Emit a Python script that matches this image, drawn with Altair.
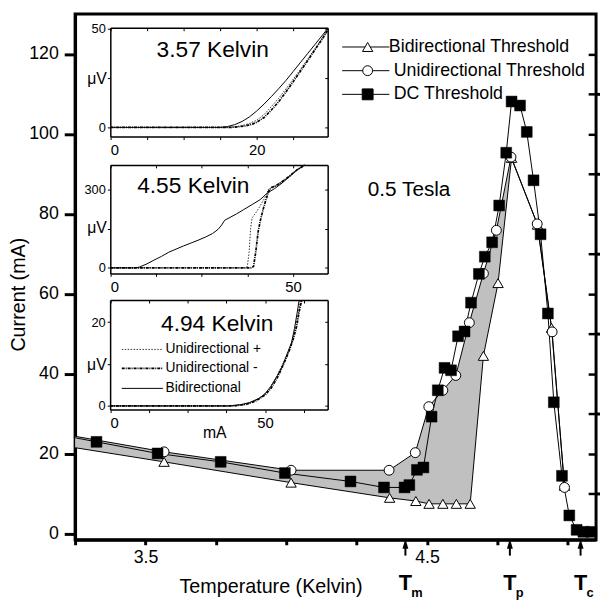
import altair as alt
import pandas as pd

# ---------------- main panel: Temperature (K) vs threshold current (mA) ----------------
bidir_T = [3.20, 3.566, 4.017, 4.367, 4.460, 4.507, 4.556, 4.604, 4.653, 4.700, 4.752, 4.800, 4.892, 4.942, 4.988]
bidir_I = [22.1, 18.0, 12.8, 9.0, 8.2, 7.5, 7.5, 7.5, 7.5, 44.5, 62.7, 94.0, 77.3, 51.5, 12.0]
unidir_T = [3.20, 3.566, 4.017, 4.365, 4.458, 4.506, 4.556, 4.602, 4.650, 4.700, 4.746, 4.798, 4.891, 4.944, 4.988]
unidir_I = [25.0, 20.5, 15.9, 15.9, 20.3, 31.8, 35.9, 39.6, 52.8, 65.1, 75.9, 94.2, 77.5, 50.5, 11.6]
dc_T = [3.20, 3.326, 3.543, 3.767, 3.995, 4.228, 4.347, 4.420, 4.437, 4.464, 4.487, 4.516, 4.538,
        4.562, 4.585, 4.610, 4.633, 4.656, 4.684, 4.705, 4.731, 4.756, 4.781, 4.800, 4.830, 4.854,
        4.878, 4.903, 4.929, 4.950, 4.979, 5.005, 5.031, 5.055, 5.083]
dc_I = [24.7, 23.0, 20.1, 18.0, 15.2, 13.1, 11.6, 11.6, 12.2, 16.0, 16.6, 29.3, 35.9,
        41.5, 40.9, 49.4, 50.6, 57.8, 65.0, 69.3, 72.9, 82.1, 95.3, 108.1, 107.1, 100.5,
        88.4, 74.9, 55.1, 32.9, 14.5, 4.6, 1.0, 0.5, 0.5]
trans_names = ["m", "p", "c"]
trans_T = [4.423, 4.794, 5.045]
legend_labels = ["Bidirectional Threshold", "Unidirectional Threshold", "DC Threshold"]

# ---------------- insets: current (mA) vs voltage (uV) ----------------
in1_bi_mA = [0, 15, 16, 17, 18, 19, 20, 21, 22, 23, 24, 25, 26, 27, 28, 29, 29.7]
in1_bi_uV = [0, 0, 0.4, 1.4, 3.0, 5.3, 8.3, 11.8, 15.6, 19.6, 23.8, 28.4, 33.0, 37.6, 42.2, 46.8, 50.2]
in1_up_mA = [0, 16, 17, 18, 19, 20, 21, 22, 23, 24, 25, 26, 27, 28, 29, 29.7]
in1_up_uV = [0, 0, 0.3, 0.9, 2.0, 3.6, 6.5, 10.5, 14.8, 19.5, 24.5, 29.5, 34.8, 40.0, 45.5, 49.6]
in1_dn_mA = [0, 16.5, 17.5, 18.5, 19.5, 20, 21, 22, 23, 24, 25, 26, 27, 28, 29, 29.7]
in1_dn_uV = [0, 0, 0.3, 0.8, 1.8, 2.6, 5.0, 8.8, 13.0, 18.0, 23.2, 28.6, 34.0, 39.6, 45.0, 49.3]

in2_bi_mA = [0, 7, 8, 10, 12, 14, 16, 18, 20, 22, 24, 26, 28, 29.5, 30.5, 31.3, 32.5, 34.5, 36.5,
             39, 41, 43, 45, 47, 49, 51, 53.3]
in2_bi_uV = [0, 0, 3, 15, 30, 44, 60, 72, 84, 95, 106, 118, 132, 148, 165, 183, 192, 207, 224,
             245, 262, 288, 305, 326, 350, 376, 396]
in2_up_mA = [0, 36.8, 37.5, 38.0, 38.4, 38.8, 40, 41, 42, 43.2, 44, 45, 47, 49, 51, 53.3]
in2_up_uV = [0, 0, 5, 60, 150, 192, 215, 238, 262, 298, 310, 314, 332, 353, 376, 396]
in2_dn_mA = [0, 38.5, 39.2, 39.8, 40.5, 41.2, 41.9, 42.6, 43.5, 44.3, 45, 47, 49, 51, 53.3]
in2_dn_uV = [0, 0, 5, 60, 142, 190, 228, 262, 300, 310, 313, 331, 352, 376, 396]

in3_bi_mA = [0, 38, 42, 45, 48, 50, 52, 54, 55.5, 57, 58.5, 59.5, 60.3, 61.0]
in3_bi_uV = [0, 0, 0.3, 0.8, 1.8, 2.9, 4.8, 7.3, 9.3, 12.2, 15.0, 18.5, 22.0, 25.2]
in3_up_mA = [0, 39, 43, 46, 49, 51, 53, 55, 57, 58.7, 59.8, 60.7, 61.4]
in3_up_uV = [0, 0, 0.3, 0.9, 2.2, 3.8, 6.0, 9.0, 12.0, 15.0, 18.5, 22.0, 25.2]
in3_dn_mA = [0, 40, 44, 47, 50, 52, 54, 56, 57.7, 59, 60.2, 61, 61.8]
in3_dn_uV = [0, 0, 0.4, 1.2, 2.6, 4.3, 6.8, 10.0, 13.0, 15.7, 19.0, 22.5, 25.2]

inset_titles = ["3.57 Kelvin", "4.55 Kelvin", "4.94 Kelvin"]
inset_legend = ["Unidirectional +", "Unidirectional -", "Bidirectional"]

FONT = "Liberation Sans"
W, H = 528, 533
dummy = pd.DataFrame({"v": [0]})

# ---------------- main scales / axes ----------------
XS = alt.Scale(domain=[3.25, 5.1], nice=False, zero=False)
YS = alt.Scale(domain=[-1.5, 130], nice=False, zero=False)
x_axis = alt.Axis(values=[3.25 + 0.25 * i for i in range(8)],
                  labelExpr="(datum.value == 3.5 || datum.value == 4.5) ? format(datum.value, '.1f') : ''",
                  tickSize=5, tickWidth=3, tickColor="black", domainWidth=3, domainColor="black",
                  labelFontSize=18, labelColor="black", labelPadding=4, grid=False,
                  title="Temperature (Kelvin)", titleFontSize=20, titleFontWeight="normal",
                  titleColor="black", titleX=198, titleY=53, titleBaseline="alphabetic",
                  titleAlign="center")
y_axis = alt.Axis(values=[0, 20, 40, 60, 80, 100, 120], format="d",
                  tickSize=11, tickWidth=3, tickColor="black", domainWidth=3, domainColor="black",
                  labelFontSize=18, labelColor="black", labelPadding=6, grid=False,
                  title="Current (mA)", titleFontSize=20, titleFontWeight="normal",
                  titleColor="black", titleX=-51, titleY=284, titleAngle=270,
                  titleBaseline="alphabetic", titleAlign="center")


def MX(field="T"):
    return alt.X(f"{field}:Q", scale=XS, axis=x_axis)


def MY(field="I"):
    return alt.Y(f"{field}:Q", scale=YS, axis=y_axis)


bidir = pd.DataFrame({"T": bidir_T, "I": bidir_I})
unidir = pd.DataFrame({"T": unidir_T, "I": unidir_I})
dc = pd.DataFrame({"T": dc_T, "I": dc_I})

# grey band: unidirectional line up to the peak, back along bidirectional line
poly_T = unidir_T[:12] + bidir_T[11::-1]
poly_I = unidir_I[:12] + bidir_I[11::-1]
poly = pd.DataFrame({"T": poly_T, "I": poly_I, "o": list(range(len(poly_T)))})

band = alt.Chart(poly).mark_line(fill="#c0c0c0", strokeOpacity=0, clip=True).encode(
    x=MX(), y=MY(), order=alt.Order("o:Q"))

line_kw = dict(color="black", strokeWidth=1, clip=True)
l_bi = alt.Chart(bidir).mark_line(**line_kw).encode(x=MX(), y=MY())
l_uni = alt.Chart(unidir).mark_line(**line_kw).encode(x=MX(), y=MY())
l_dc = alt.Chart(dc).mark_line(**line_kw).encode(x=MX(), y=MY())

vis = alt.datum.T >= 3.25
p_bi = alt.Chart(bidir).transform_filter(vis).mark_point(
    shape="triangle-up", size=110, filled=True, fill="white", stroke="black", strokeWidth=1,
    opacity=1).encode(x=MX(), y=MY())
p_uni = alt.Chart(unidir).transform_filter(vis).mark_point(
    shape="circle", size=100, filled=True, fill="white", stroke="black", strokeWidth=1,
    opacity=1).encode(x=MX(), y=MY())
p_dc = alt.Chart(dc).transform_filter(vis).mark_point(
    shape="square", size=121, filled=True, fill="black", stroke="black", strokeWidth=0.5,
    opacity=1).encode(x=MX(), y=MY())

# transition temperature arrows
tdf = pd.DataFrame({"name": trans_names, "T": trans_T})
arrow_head = alt.Chart(tdf).mark_point(shape="M0,-1L0.6,1L-0.6,1Z", size=100, filled=True,
                                       color="black", opacity=1).encode(x=MX(), y=alt.value(537))
arrow_shaft = alt.Chart(tdf).mark_rule(color="black", strokeWidth=2).encode(
    x=MX(), y=alt.value(540), y2=alt.value(549))
t_big = alt.Chart(tdf).mark_text(text="T", fontSize=22, fontWeight="bold", align="center",
                                 baseline="alphabetic", color="black").encode(x=MX(), y=alt.value(584))
t_sub = alt.Chart(tdf).mark_text(fontSize=13, fontWeight="bold", align="left", dx=6,
                                 baseline="alphabetic", color="black").encode(
    x=MX(), y=alt.value(591), text="name:N")

# main legend (line + symbol + label)
leg_layers = []
leg_rows = [33.5, 57.5, 81.5]
leg_text_x = [318, 323, 323]
leg_sym = [dict(shape="triangle-up", size=110, fill="white"),
           dict(shape="circle", size=100, fill="white"),
           dict(shape="square", size=121, fill="black")]
for lab, ly, tx, sym in zip(legend_labels, leg_rows, leg_text_x, leg_sym):
    ldf = pd.DataFrame({"label": [lab]})
    leg_layers.append(alt.Chart(ldf).mark_rule(color="black", strokeWidth=1).encode(
        x=alt.value(270.7), x2=alt.value(318.5), y=alt.value(ly)))
    leg_layers.append(alt.Chart(ldf).mark_point(filled=True, stroke="black", strokeWidth=1,
                                                opacity=1, **sym).encode(
        x=alt.value(296.5), y=alt.value(ly)))
    leg_layers.append(alt.Chart(ldf).mark_text(align="left", baseline="middle", fontSize=18,
                                               color="black").encode(
        x=alt.value(tx), y=alt.value(ly), text="label:N"))

# free texts
txt_layers = []
for lab, (tx, ty) in zip(inset_titles, [(139.5, 43.3), (119.8, 181.7), (144, 321.7)]):
    txt_layers.append(alt.Chart(pd.DataFrame({"label": [lab]})).mark_text(
        align="center", baseline="alphabetic", fontSize=23, color="black").encode(
        x=alt.value(tx), y=alt.value(ty), text="label:N"))
txt_layers.append(alt.Chart(pd.DataFrame({"label": ["0.5 Tesla"]})).mark_text(
    align="left", baseline="alphabetic", fontSize=21, color="black").encode(
    x=alt.value(296.7), y=alt.value(185), text="label:N"))

# inset 3 legend
in_styles = {
    "up": dict(strokeDash=[1.5, 1.5], strokeWidth=1, color="#333333"),
    "dn": dict(strokeDash=[3, 1, 1, 1], strokeWidth=1.7, color="black"),
    "bi": dict(strokeWidth=1, color="black"),
}
for lab, key, ly in zip(inset_legend, ["up", "dn", "bi"], [340, 359.3, 379.5]):
    ldf = pd.DataFrame({"label": [lab]})
    txt_layers.append(alt.Chart(ldf).mark_rule(**in_styles[key]).encode(
        x=alt.value(47.3), x2=alt.value(89), y=alt.value(ly)))
    txt_layers.append(alt.Chart(ldf).mark_text(align="left", baseline="middle", fontSize=14,
                                               color="black").encode(
        x=alt.value(91.7), y=alt.value(ly), text="label:N"))

main = alt.layer(band, l_bi, l_uni, l_dc, p_bi, p_uni, p_dc,
                 arrow_head, arrow_shaft, t_big, t_sub, *leg_layers, *txt_layers)

# extra axes of the main frame: minor left ticks, inward right ticks
y_minor = alt.Chart(dummy).mark_point(opacity=0).encode(
    y=alt.Y("v:Q", scale=YS, axis=alt.Axis(values=[10, 30, 50, 70, 90, 110], labels=False,
                                           domain=False, tickSize=7, tickWidth=3,
                                           tickColor="black", grid=False, title=None)))
y_right = alt.Chart(dummy).mark_point(opacity=0).encode(
    y=alt.Y("v:Q", scale=YS, axis=alt.Axis(orient="left", offset=-W,
                                           values=[10 * i for i in range(13)], labels=False,
                                           domain=False, tickSize=8, tickWidth=2.5,
                                           tickColor="black", grid=False, title=None)))


def make_inset(curves, xdom, xr, ydom, yr, xvals, xlabs, yvals, ylabs, mu_y, xtitle=None):
    xs = alt.Scale(domain=xdom, range=xr, nice=False, zero=False)
    ys = alt.Scale(domain=ydom, range=yr, nice=False, zero=False)
    bottom_px, top_px = yr
    left_px, right_px = xr
    xa_kw = dict(orient="bottom", offset=-(H - bottom_px), values=xvals,
                 labelExpr=f"indexof({xlabs}, datum.value) >= 0 ? format(datum.value, 'd') : ''",
                 tickSize=3, tickWidth=1, tickColor="black", domainWidth=1.5,
                 domainColor="black", labelFontSize=15, labelColor="black", labelPadding=3,
                 grid=False)
    if xtitle:
        xa = alt.Axis(title=xtitle, titleFontSize=16, titleFontWeight="normal",
                      titleColor="black", titleX=141, titleY=28, titleBaseline="alphabetic",
                      titleAlign="center", **xa_kw)
    else:
        xa = alt.Axis(title=None, **xa_kw)
    ya = alt.Axis(orient="left", offset=-left_px, values=yvals,
                  labelExpr=f"indexof({ylabs}, datum.value) >= 0 ? format(datum.value, 'd') : ''",
                  tickSize=3, tickWidth=1, tickColor="black", domainWidth=1.5,
                  domainColor="black", labelFontSize=13, labelColor="black", labelPadding=2,
                  grid=False, title="\u03bcV", titleFontSize=16, titleFontWeight="normal",
                  titleColor="black", titleAngle=0, titleAlign="right", titleBaseline="middle",
                  titleX=-4, titleY=mu_y)
    layers = []
    for key, xs_v, ys_v in curves:
        df = pd.DataFrame({"mA": xs_v, "uV": ys_v})
        layers.append(alt.Chart(df).mark_line(**in_styles[key]).encode(
            x=alt.X("mA:Q", scale=xs, axis=xa), y=alt.Y("uV:Q", scale=ys, axis=ya)))
    lines = alt.layer(*layers)
    top = alt.Chart(dummy).mark_point(opacity=0).encode(
        x=alt.X("v:Q", scale=xs, axis=alt.Axis(orient="bottom", offset=-(H - top_px),
                                               values=xvals, labels=False, tickSize=3,
                                               tickWidth=1, tickColor="black", domainWidth=1.5,
                                               domainColor="black", grid=False, title=None)))
    right = alt.Chart(dummy).mark_point(opacity=0).encode(
        y=alt.Y("v:Q", scale=ys, axis=alt.Axis(orient="left", offset=-right_px,
                                               values=yvals, labels=False, tickSize=3,
                                               tickWidth=1, tickColor="black", domainWidth=1.5,
                                               domainColor="black", grid=False, title=None)))
    return [lines, top, right]


inset1 = make_inset([("bi", in1_bi_mA, in1_bi_uV), ("up", in1_up_mA, in1_up_uV),
                     ("dn", in1_dn_mA, in1_dn_uV)],
                    [0, 29.7], [35.7, 256], [-4.65, 50.5], [124.3, 14],
                    [0, 5, 10, 15, 20, 25], [0, 20], [0, 25, 50], [0, 50], 65)
inset2 = make_inset([("bi", in2_bi_mA, in2_bi_uV), ("up", in2_up_mA, in2_up_uV),
                     ("dn", in2_dn_mA, in2_dn_uV)],
                    [0, 59.5], [35.7, 256], [-21.6, 396], [263, 153],
                    [0, 12.5, 25, 37.5, 50], [0, 50], [0, 150, 300], [0, 300], 217)
inset3 = make_inset([("bi", in3_bi_mA, in3_bi_uV), ("up", in3_up_mA, in3_up_uV),
                     ("dn", in3_dn_mA, in3_dn_uV)],
                    [0, 70.2], [35.5, 256], [-0.87, 25.25], [401, 290],
                    [0, 12.5, 25, 37.5, 50, 62.5], [0, 50], [0, 10, 20], [0, 20], 355,
                    xtitle="mA")

chart = alt.layer(main, y_minor, y_right, *inset1, *inset2, *inset3).resolve_scale(
    x="independent", y="independent"
).properties(
    width=W, height=H,
    padding={"left": 68, "top": 2, "right": 4, "bottom": 60},
    autosize=alt.AutoSizeParams(type="none"),
).configure(font=FONT).configure_view(stroke="black", strokeWidth=3)

chart.save("out.html", embed_options={"renderer": "svg", "actions": False})
